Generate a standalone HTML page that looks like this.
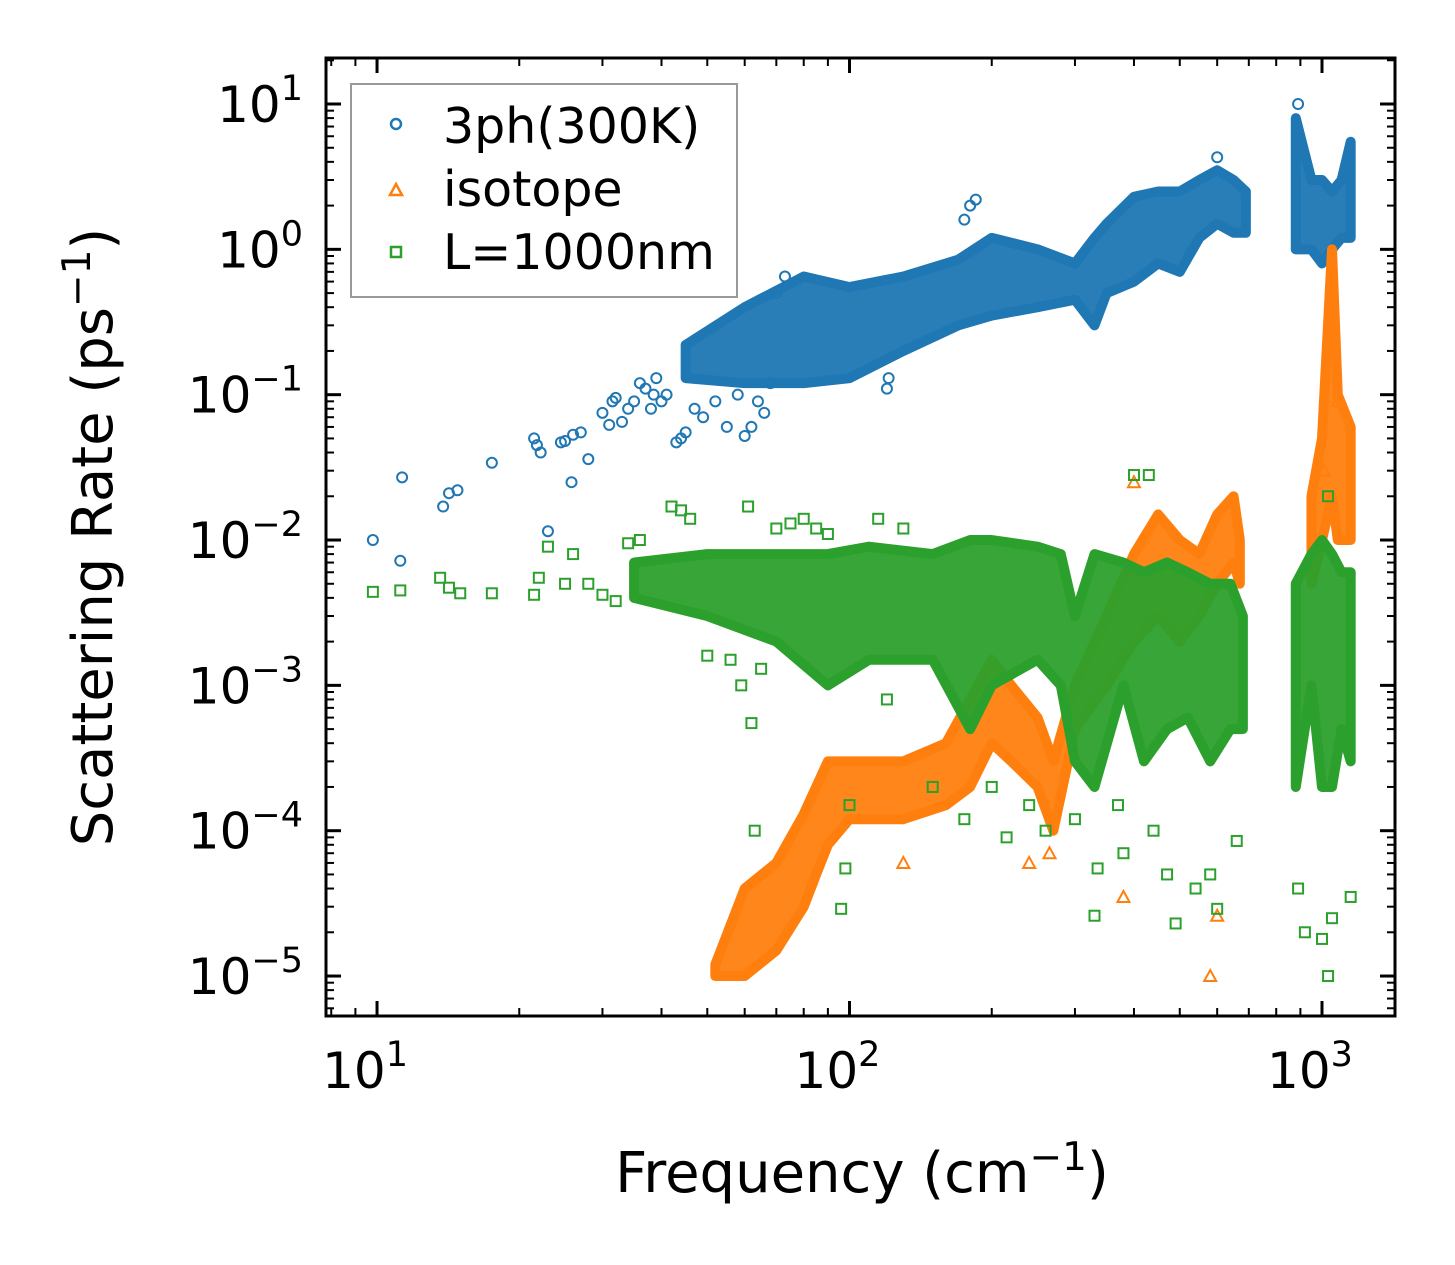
<!DOCTYPE html>
<html><head><meta charset="utf-8"><style>
body{margin:0;background:#fff}
svg{display:block;font-family:"DejaVu Sans","Liberation Sans",sans-serif}
</style></head><body>
<svg id="chart" width="1455" height="1265" viewBox="0 0 1455 1265" xmlns="http://www.w3.org/2000/svg">
<rect width="1455" height="1265" fill="#fff"/>
<g id="plot"></g>
<g id="axes"></g>
<text x="862" y="1192" font-size="56" text-anchor="middle">Frequency (cm<tspan dy="-22" font-size="39">−1</tspan><tspan dy="22">)</tspan></text>
<text transform="translate(112,537) rotate(-90)" font-size="56" text-anchor="middle">Scattering Rate (ps<tspan dy="-22" font-size="39">−1</tspan><tspan dy="22">)</tspan></text>
<g>
<rect x="351" y="84" width="386" height="213" fill="#fff" stroke="#999" stroke-width="2"/>
<circle cx="396" cy="124" r="5" fill="none" stroke="#1f77b4" stroke-width="2.5"/>
<path d="M390,195 L402,195 L396,184 Z" fill="none" stroke="#ff7f0e" stroke-width="2.5"/>
<rect x="391" y="247" width="10" height="10" fill="none" stroke="#2ca02c" stroke-width="2.5"/>
<text x="443" y="143" font-size="49">3ph(300K)</text>
<text x="443" y="206" font-size="49">isotope</text>
<text x="443" y="269" font-size="49">L=1000nm</text>
</g>
</svg>
<script>
// ---- data ----
const blueBandF = [[45,60,80,100,130,170,200,250,300,330,350,400,450,500,550,600,650,690],[880,950,1000,1050,1100,1150]];
const blueBandLo = [[0.13,0.12,0.12,0.13,0.2,0.3,0.35,0.4,0.45,0.3,0.5,0.6,0.8,0.7,1.2,1.5,1.3,1.3],[1,1,0.8,1,1.2,1.2]];
const blueBandHi = [[0.22,0.4,0.65,0.55,0.65,0.85,1.2,1.0,0.8,1.2,1.5,2.3,2.5,2.5,3.0,3.5,3.0,2.5],[8,3,3,2.5,3,5.5]];
const blueF = [9.8,11.2,11.3,13.8,14.2,14.8,17.5,21.5,21.8,22.2,23,24.5,25,25.8,26,27,28,30,31,31.5,32,33,34,35,36,37,38,38.5,39,40,41,43,44,45,47,49,52,55,58,60,62,64,66,68,70,73,120,121,175,180,185,600,890];
const blueV = [0.01,0.0072,0.027,0.017,0.021,0.022,0.034,0.05,0.045,0.04,0.0115,0.047,0.048,0.025,0.053,0.055,0.036,0.075,0.062,0.09,0.095,0.065,0.08,0.09,0.12,0.11,0.08,0.1,0.13,0.09,0.1,0.047,0.05,0.055,0.08,0.07,0.09,0.06,0.1,0.052,0.06,0.09,0.075,0.12,0.5,0.65,0.11,0.13,1.6,2,2.2,4.3,10];

const orBandF = [[52,60,70,80,85,90,100,130,160,180,200,220,250,270,300,350,400,450,500,550,600,650,670],[950,1000,1050,1080,1150]];
const orBandLo = [[1e-5,1e-5,1.5e-5,3e-5,5e-5,8e-5,1.2e-4,1.2e-4,1.5e-4,2e-4,4e-4,3e-4,2e-4,1e-4,5e-4,1e-3,2e-3,3e-3,2e-3,3e-3,5e-3,7e-3,5e-3],[5e-3,1e-2,2e-2,1e-2,1e-2]];
const orBandHi = [[1.2e-5,4e-5,6e-5,1.3e-4,2e-4,3e-4,3e-4,3e-4,4e-4,8e-4,1.5e-3,1e-3,6e-4,3e-4,1e-3,3e-3,8e-3,1.5e-2,1e-2,8e-3,1.5e-2,2e-2,1e-2],[2e-2,5e-2,1,0.1,0.06]];
const orF = [580,600,380,130,240,265,400,1010,1080];
const orV = [1e-5,2.6e-5,3.5e-5,6e-5,6e-5,7e-5,2.5e-2,0.03,0.09];

const grBandF = [[35,50,70,90,110,150,180,200,250,280,300,330,380,420,470,520,580,640,680],[880,950,1000,1050,1100,1150]];
const grBandLo = [[4e-3,3e-3,2e-3,1e-3,1.5e-3,1.5e-3,5e-4,1e-3,1.5e-3,1e-3,3e-4,2e-4,1e-3,3e-4,5e-4,6e-4,3e-4,5e-4,5e-4],[2e-4,1e-3,2e-4,2e-4,5e-4,3e-4]];
const grBandHi = [[7e-3,8e-3,8e-3,8e-3,9e-3,8e-3,1e-2,1e-2,9e-3,8e-3,3e-3,8e-3,7e-3,6e-3,7e-3,6e-3,5e-3,5e-3,3e-3],[5e-3,8e-3,1e-2,8e-3,6e-3,6e-3]];
const grF = [9.8,11.2,13.6,14.2,15,17.5,21.5,22,23,25,26,28,30,32,34,36,42,44,46,50,56,59,61,62,63,65,70,75,80,85,90,96,98,100,115,120,130,150,175,200,215,240,260,300,330,335,370,380,400,430,440,470,490,540,580,600,660,890,920,1000,1030,1050,1030,1150];
const grV = [4.4e-3,4.5e-3,5.5e-3,4.7e-3,4.3e-3,4.3e-3,4.2e-3,5.5e-3,9e-3,5e-3,8e-3,5e-3,4.2e-3,3.8e-3,9.5e-3,1e-2,1.7e-2,1.6e-2,1.4e-2,1.6e-3,1.5e-3,1e-3,1.7e-2,5.5e-4,1e-4,1.3e-3,1.2e-2,1.3e-2,1.4e-2,1.2e-2,1.1e-2,2.9e-5,5.5e-5,1.5e-4,1.4e-2,8e-4,1.2e-2,2e-4,1.2e-4,2e-4,9e-5,1.5e-4,1e-4,1.2e-4,2.6e-5,5.5e-5,1.5e-4,7e-5,2.8e-2,2.8e-2,1e-4,5e-5,2.3e-5,4e-5,5e-5,2.9e-5,8.5e-5,4e-5,2e-5,1.8e-5,1e-5,2.5e-5,2e-2,3.5e-5];

const xTickLabels = ["1","2","3"];
const yTickLabels = ["1","0","−1","−2","−3","−4","−5"];

// ---- axes ----
const L=326,R=1395,T=58,B=1016;
const xMin=0.892,xMax=3.1545,yMin=-5.275,yMax=1.3166;
const X=f=>L+(Math.log10(f)-xMin)/(xMax-xMin)*(R-L);
const Y=v=>B-(Math.log10(v)-yMin)/(yMax-yMin)*(B-T);
const NS="http://www.w3.org/2000/svg";
function mk(tag,attrs,parent){const e=document.createElementNS(NS,tag);for(const k in attrs)e.setAttribute(k,attrs[k]);parent.appendChild(e);return e;}
const plot=document.getElementById('plot'),axes=document.getElementById('axes');
const cp=mk('clipPath',{id:'clip'},plot);
mk('rect',{x:L,y:T,width:R-L,height:B-T},cp);
const g=mk('g',{'clip-path':'url(#clip)'},plot);

function bands(F,Lo,Hi,color,name){
  F.forEach((fs,s)=>{
    let pts=fs.map((f,i)=>X(f)+','+Y(Hi[s][i]));
    for(let i=fs.length-1;i>=0;i--)pts.push(X(fs[i])+','+Y(Lo[s][i]));
    const p=mk('polygon',{points:pts.join(' '),fill:color,'fill-opacity':0.95,stroke:color,'stroke-width':10,'stroke-linejoin':'round'},g);
    
    
  });
}
function marker(type,x,y,color){
  let e;
  if(type==='c')e=mk('circle',{cx:x,cy:y,r:5,fill:'none',stroke:color,'stroke-width':2},g);
  else if(type==='t')e=mk('path',{d:`M${x-6},${y+5} L${x+6},${y+5} L${x},${y-6} Z`,fill:'none',stroke:color,'stroke-width':2},g);
  else e=mk('rect',{x:x-5,y:y-5,width:10,height:10,fill:'none',stroke:color,'stroke-width':2},g);
  return e;
}
bands(blueBandF,blueBandLo,blueBandHi,'#1f77b4','3ph');
blueF.forEach((f,i)=>{const e=marker('c',X(f),Y(blueV[i]),'#1f77b4');
  
  });
bands(orBandF,orBandLo,orBandHi,'#ff7f0e','isotope');
orF.forEach((f,i)=>{const e=marker('t',X(f),Y(orV[i]),'#ff7f0e');
  
  });
bands(grBandF,grBandLo,grBandHi,'#2ca02c','l1000');
grF.forEach((f,i)=>{const e=marker('s',X(f),Y(grV[i]),'#2ca02c');
  
  });

// frame
mk('rect',{x:L,y:T,width:R-L,height:B-T,fill:'none',stroke:'#000','stroke-width':3},axes);
for(let d=0;d<=3;d++)for(let m=1;m<10;m++){
  const lv=d+Math.log10(m); if(lv<xMin||lv>xMax)continue;
  const x=L+(lv-xMin)/(xMax-xMin)*(R-L), len=m===1?15:8, w=m===1?3:2;
  mk('line',{x1:x,x2:x,y1:B,y2:B-len,stroke:'#000','stroke-width':w},axes);
  mk('line',{x1:x,x2:x,y1:T,y2:T+len,stroke:'#000','stroke-width':w},axes);
}
xTickLabels.forEach((s,i)=>{const x=X(Math.pow(10,+s));
  const t=mk('text',{x:x-12,y:1088,'font-size':50,'text-anchor':'middle'},axes);
  
  
  t.innerHTML='10<tspan dy="-22" font-size="35">'+s+'</tspan>';});
for(let d=-6;d<=1;d++)for(let m=1;m<10;m++){
  const lv=d+Math.log10(m); if(lv<yMin||lv>yMax)continue;
  const y=B-(lv-yMin)/(yMax-yMin)*(B-T), len=m===1?15:8, w=m===1?3:2;
  mk('line',{x1:L,x2:L+len,y1:y,y2:y,stroke:'#000','stroke-width':w},axes);
  mk('line',{x1:R,x2:R-len,y1:y,y2:y,stroke:'#000','stroke-width':w},axes);
}
yTickLabels.forEach((s,i)=>{const v=1-i;const y=Y(Math.pow(10,v));
  const t=mk('text',{x:303,y:y+18,'font-size':50,'text-anchor':'end'},axes);
  
  
  t.innerHTML='10';
  const sp=mk('tspan',{dy:-22,'font-size':35},t);sp.textContent=s;});
</script>
</body></html>
